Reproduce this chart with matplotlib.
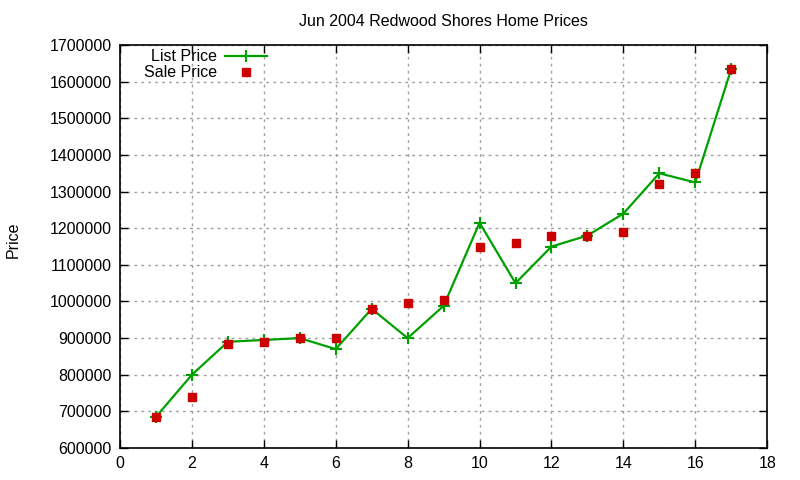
import matplotlib
matplotlib.use("Agg")
import matplotlib.pyplot as plt
from matplotlib.ticker import MultipleLocator, FuncFormatter

plt.rcParams['font.family'] = ['Liberation Sans', 'DejaVu Sans']

house = list(range(1, 18))
list_price = [685000, 800000, 890000, 895000, 900000, 870000, 980000, 900000, 988000,
              1215000, 1050000, 1150000, 1180000, 1240000, 1350000, 1325000, 1635000]
sale_price = [685000, 740000, 885000, 889000, 900000, 900000, 980000, 997000, 1005000,
              1150000, 1160000, 1180000, 1180000, 1190000, 1320000, 1350000, 1635000]
title = "Jun 2004 Redwood Shores Home Prices"

fig = plt.figure(figsize=(8, 4.8), dpi=100)
ax = fig.add_axes([0.15, 0.0667, 0.809, 0.8393])

ax.plot(house, list_price, color='#00a000', linewidth=1.6, marker='+', markersize=8,
        markeredgewidth=1.5, label='List Price', zorder=3)
ax.plot(house, sale_price, linestyle='none', marker='s', markersize=5.6,
        color='#cc0000', label='Sale Price', zorder=4)

ax.set_xlim(0, 18)
ax.set_ylim(600000, 1700000)
ax.xaxis.set_major_locator(MultipleLocator(2))
ax.yaxis.set_major_locator(MultipleLocator(100000))
ax.yaxis.set_major_formatter(FuncFormatter(lambda v, p: f"{int(round(v))}"))
ax.tick_params(direction='in', top=True, right=True, length=6, width=1,
               labelsize=11.5, colors='black', pad=6)
ax.grid(True, color='#a0a0a0', linestyle=(0, (2, 3)), linewidth=1)
for s in ax.spines.values():
    s.set_linewidth(1.2)

ax.set_title(title, fontsize=11.5, pad=14)
fig.text(0.016, 0.5, 'Price', rotation=90, va='center', ha='center', fontsize=11.5)

leg = ax.legend(loc='upper left', bbox_to_anchor=(0.02, 1.017), markerfirst=False,
                frameon=False, fontsize=11.5, handlelength=2.6, labelspacing=0.05,
                borderaxespad=0.3, handletextpad=0.5)
for t in leg.get_texts():
    t.set_ha('right')
leg._legend_box.align = 'right'

fig.savefig('out.png', dpi=100)
